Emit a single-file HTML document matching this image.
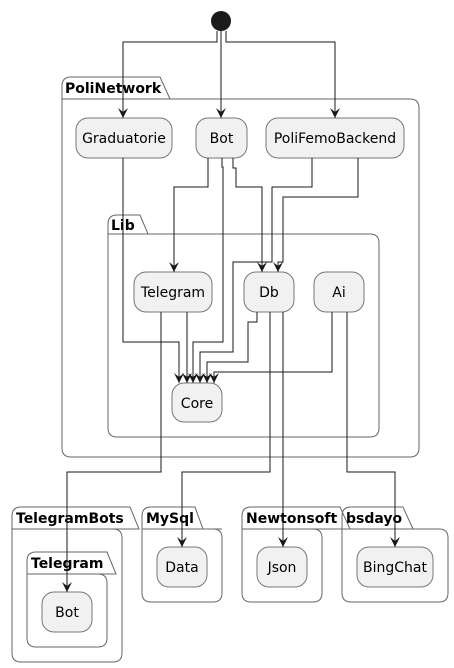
<!DOCTYPE html>
<html><head><meta charset="utf-8"><style>body{margin:0;background:#fff}svg{display:block}</style></head><body>
<svg width="454" height="668" viewBox="0 0 454 668" xmlns="http://www.w3.org/2000/svg" font-family="DejaVu Sans, Liberation Sans, sans-serif">
<defs><marker id="a" markerWidth="12" markerHeight="12" refX="5" refY="10" orient="0" markerUnits="userSpaceOnUse"><path d="M0,0 L5,10 L10,0 L5,4 Z" fill="#181818"/></marker></defs>
<g fill="none" stroke="#666" stroke-width="1">
<path d="M62,99 V86 Q62,77 71,77 H160 L170,99 H410 Q419,99 419,108 V448 Q419,457 410,457 H71 Q62,457 62,448 Z"/><line x1="62" y1="99" x2="170" y2="99"/>
<path d="M108,234 V224 Q108,215 117,215 H140 L148,234 H370 Q379,234 379,243 V428 Q379,437 370,437 H117 Q108,437 108,428 Z"/><line x1="108" y1="234" x2="148" y2="234"/>
<path d="M12,529 V516 Q12,507 21,507 H130 L139,529 H113 Q122,529 122,538 V653 Q122,662 113,662 H21 Q12,662 12,653 Z"/><line x1="12" y1="529" x2="139" y2="529"/>
<path d="M27,574 V561 Q27,552 36,552 H107 L116,574 H98 Q107,574 107,583 V638 Q107,647 98,647 H36 Q27,647 27,638 Z"/><line x1="27" y1="574" x2="116" y2="574"/>
<path d="M142,529 V516 Q142,507 151,507 H195 L203,529 H213 Q222,529 222,538 V593 Q222,602 213,602 H151 Q142,602 142,593 Z"/><line x1="142" y1="529" x2="222" y2="529"/>
<path d="M242,529 V516 Q242,507 251,507 H340 L350,529 H313 Q322,529 322,538 V593 Q322,602 313,602 H251 Q242,602 242,593 Z"/><line x1="242" y1="529" x2="350" y2="529"/>
<path d="M342,529 V516 Q342,507 351,507 H403 L413,529 H439 Q448,529 448,538 V593 Q448,602 439,602 H351 Q342,602 342,593 Z"/><line x1="342" y1="529" x2="413" y2="529"/>
</g>
<g font-weight="bold" font-size="14" fill="#000">
<text x="65" y="93">PoliNetwork</text><text x="111" y="230">Lib</text>
<text x="16" y="523">TelegramBots</text><text x="31" y="568">Telegram</text>
<text x="146" y="523">MySql</text><text x="246" y="523">Newtonsoft</text><text x="346" y="523">bsdayo</text>
</g>
<g fill="#f1f1f1" stroke="#777" stroke-width="1">
<rect x="76" y="118" width="96" height="40" rx="12"/><rect x="196" y="118" width="51" height="40" rx="12"/><rect x="266" y="118" width="138" height="40" rx="12"/>
<rect x="134" y="272" width="78" height="40" rx="12"/><rect x="244" y="272" width="50" height="40" rx="12"/><rect x="314" y="272" width="50" height="40" rx="12"/>
<rect x="172" y="383" width="50" height="39" rx="12"/>
<rect x="42" y="592" width="50" height="40" rx="12"/><rect x="157" y="547" width="50" height="40" rx="12"/><rect x="257" y="547" width="50" height="40" rx="12"/><rect x="357" y="547" width="76" height="40" rx="12"/>
</g>
<g font-size="14" fill="#000" text-anchor="middle">
<text x="124" y="143">Graduatorie</text><text x="221.5" y="143">Bot</text><text x="335" y="143">PoliFemoBackend</text>
<text x="173" y="297">Telegram</text><text x="269" y="297">Db</text><text x="339" y="297">Ai</text><text x="197" y="408">Core</text>
<text x="67" y="617">Bot</text><text x="182" y="572">Data</text><text x="282" y="572">Json</text><text x="395" y="572">BingChat</text>
</g>
<circle cx="221" cy="21" r="10" fill="#1b1b1b"/>
<g fill="none" stroke="#181818" stroke-width="1" marker-end="url(#a)">
<path d="M217,31 V42 H123 V118"/><path d="M221,31 V118"/><path d="M226,31 V42 H335 V118"/>
<path d="M123,158 V342 H179 V383"/><path d="M187,312 V383"/><path d="M222,158 V167 H223 V342 H193 V383"/>
<path d="M312,158 V187 H272 V262 H233 V352 H200 V383"/><path d="M257,312 V322 H248 V362 H207 V383"/><path d="M332,312 V372 H214 V383"/>
<path d="M208,158 V187 H174 V272"/><path d="M233,158 V168 H236 V187 H262 V272"/><path d="M358,158 V197 H283 V262 H278 V272"/>
<path d="M161,312 V472 H67 V592"/><path d="M270,312 V472 H182 V547"/><path d="M283,312 V547"/><path d="M347,312 V472 H395 V547"/>
</g>
</svg>
</body></html>
